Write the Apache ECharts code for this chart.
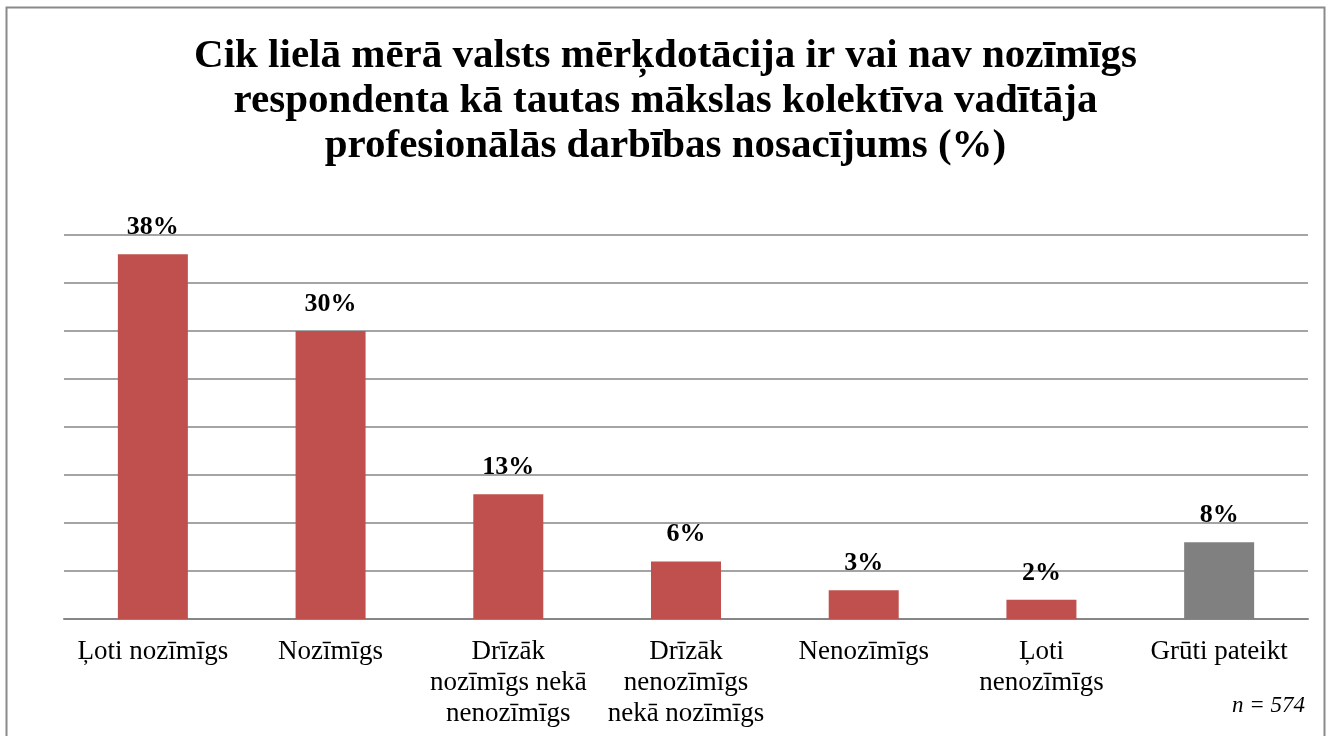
<!DOCTYPE html>
<html>
<head>
<meta charset="utf-8">
<script src="https://cdn.jsdelivr.net/npm/echarts@6/dist/echarts.min.js"></script>
<style>
html,body{margin:0;padding:0;background:#fff;}
#chart{width:1331px;height:736px;}
</style>
</head>
<body>
<div id="chart"></div>
<script>
const titleText = 'Cik lielā mērā valsts mērķdotācija ir vai nav nozīmīgs\nrespondenta kā tautas mākslas kolektīva vadītāja\nprofesionālās darbības nosacījums (%)';
const categories = ['Ļoti nozīmīgs', 'Nozīmīgs', 'Drīzāk\nnozīmīgs nekā\nnenozīmīgs', 'Drīzāk\nnenozīmīgs\nnekā nozīmīgs', 'Nenozīmīgs', 'Ļoti\nnenozīmīgs', 'Grūti pateikt'];
const values = [38, 30, 13, 6, 3, 2, 8];
const barColors = ['#C0504D', '#C0504D', '#C0504D', '#C0504D', '#C0504D', '#C0504D', '#808080'];
const noteText = 'n = 574';

const chart = echarts.init(document.getElementById('chart'), null, {renderer: 'canvas'});
const font = '"Liberation Serif", "Times New Roman", serif';
chart.setOption({
  animation: false,
  backgroundColor: '#ffffff',
  title: {
    text: titleText,
    left: 'center',
    top: 29,
    textStyle: {fontFamily: font, fontSize: 41, fontWeight: 'bold', color: '#000', lineHeight: 45}
  },
  grid: {left: 64, right: 23, top: 235, bottom: 117},
  xAxis: {
    type: 'category',
    data: categories,
    axisTick: {show: false},
    axisLine: {lineStyle: {color: '#868686', width: 2}},
    axisLabel: {fontFamily: font, fontSize: 27, color: '#000', lineHeight: 31, margin: 17, interval: 0}
  },
  yAxis: {
    type: 'value',
    min: 0, max: 40, interval: 5,
    axisLabel: {show: false},
    axisLine: {show: false},
    axisTick: {show: false},
    splitLine: {lineStyle: {color: '#868686', width: 1.5}}
  },
  series: [{
    type: 'bar',
    barWidth: 70,
    data: values.map((v, i) => ({value: v, itemStyle: {color: barColors[i]}})),
    label: {
      show: true, position: 'top', distance: 14,
      formatter: p => p.value + '%',
      fontFamily: font, fontSize: 26, fontWeight: 'bold', color: '#000'
    }
  }],
  graphic: [
    {type: 'rect', shape: {x: 6.5, y: 7.5, width: 1318, height: 740}, style: {fill: null, stroke: '#8a8a8a', lineWidth: 2}, z: 100},
    {type: 'text', right: 26, top: 694, style: {text: noteText, font: 'italic 23px ' + font, fill: '#000'}}
  ]
});
</script>
</body>
</html>
